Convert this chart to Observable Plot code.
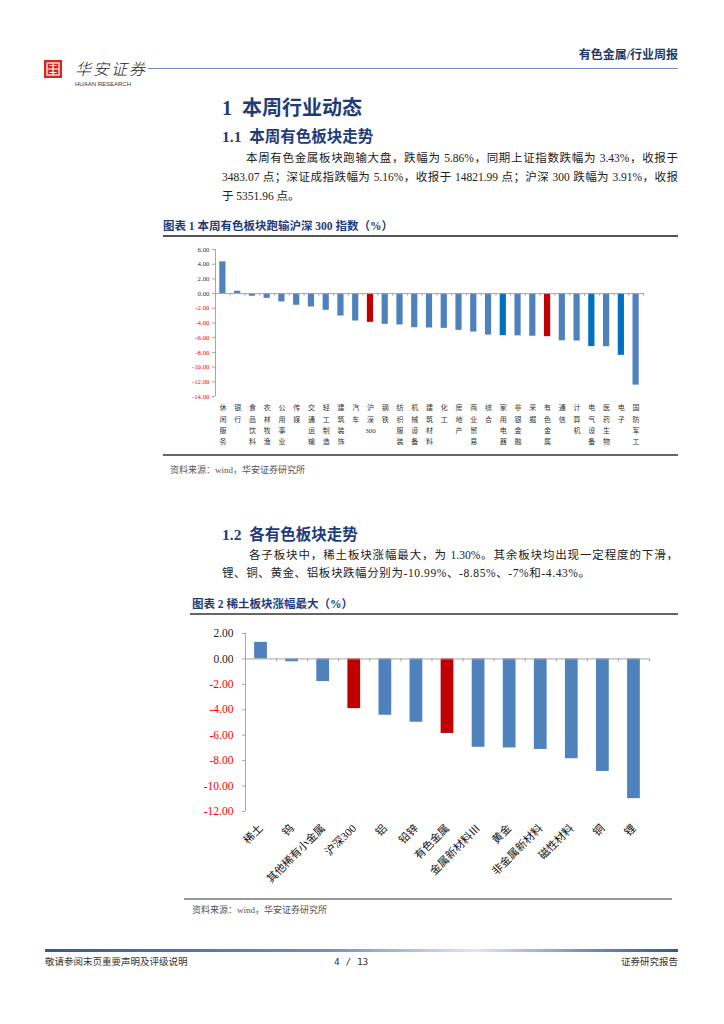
<!DOCTYPE html>
<html><head><meta charset="utf-8">
<script src="https://cdn.jsdelivr.net/npm/d3@7"></script>
<script src="https://cdn.jsdelivr.net/npm/@observablehq/plot@0.6"></script>
<style>
html,body{margin:0;padding:0;background:#fff;}
#page{position:relative;width:724px;height:1024px;overflow:hidden;font-family:"Liberation Serif","Noto Sans CJK SC",serif;color:#222;}
.abs{position:absolute;white-space:nowrap;}
.navy{color:#1F3C7A;font-weight:bold;}
.just{text-align:justify;text-align-last:justify;}
.rule{position:absolute;}
</style></head>
<body><div id="page">
<!-- header -->
<svg class="abs" style="left:44px;top:60px" width="18" height="18" viewBox="0 0 18 18">
<rect width="18" height="18" fill="#D7261E"/>
<rect x="3" y="3" width="12" height="12" fill="none" stroke="#fff" stroke-width="1.2"/>
<path d="M9 3V15M3 9H15M5.5 5.5H12.5M5.5 12.5H12.5" stroke="#fff" stroke-width="1.2"/>
</svg>
<div class="abs" style="left:75px;top:58px;font-size:16px;line-height:20px;letter-spacing:2px;font-style:italic;font-weight:300;color:#222;font-family:'Noto Sans CJK SC',sans-serif;">华安证券</div>
<div class="abs" style="left:75px;top:80px;font-size:6px;line-height:8px;color:#333;font-family:'Liberation Sans',sans-serif;">HUAAN RESEARCH</div>
<div class="rule" style="left:148px;top:68px;width:530px;height:1px;background:#6F8BBF"></div>
<div class="abs navy" style="right:46px;top:47px;font-size:12px;line-height:16px;color:#1F3864;">有色金属/行业周报</div>

<div class="abs navy" style="left:222px;top:95px;font-size:20px;line-height:26px;">1&nbsp;&nbsp;本周行业动态</div>
<div class="abs navy" style="left:222px;top:127px;font-size:15.5px;line-height:20px;">1.1&nbsp;&nbsp;本周有色板块走势</div>
<div class="abs just" style="left:246px;top:149px;width:432px;font-size:11.5px;line-height:18px;">本周有色金属板块跑输大盘，跌幅为 5.86%，同期上证指数跌幅为 3.43%，收报于</div>
<div class="abs just" style="left:222px;top:168px;width:456px;font-size:11.5px;line-height:18px;">3483.07 点；深证成指跌幅为 5.16%，收报于 14821.99 点；沪深 300 跌幅为 3.91%，收报</div>
<div class="abs" style="left:222px;top:187px;font-size:11.5px;line-height:18px;">于 5351.96 点。</div>

<div class="abs navy" style="left:163px;top:218px;font-size:11.5px;line-height:16px;">图表 1 本周有色板块跑输沪深 300 指数（%）</div>
<div class="rule" style="left:163px;top:235px;width:515px;height:2px;background:#555"></div>
<div id="chart1" class="abs" style="left:160px;top:240px;"></div>
<div class="rule" style="left:163px;top:454px;width:515px;height:2px;background:#666"></div>
<div class="abs" style="left:170px;top:464px;font-size:9px;line-height:12px;color:#555;">资料来源：wind，华安证券研究所</div>

<div class="abs navy" style="left:222px;top:525px;font-size:15.5px;line-height:20px;">1.2&nbsp;&nbsp;各有色板块走势</div>
<div class="abs just" style="left:249px;top:546px;width:429px;font-size:11.5px;line-height:18px;">各子板块中，稀土板块涨幅最大，为 1.30%。其余板块均出现一定程度的下滑，</div>
<div class="abs" style="left:222px;top:564px;font-size:11.5px;line-height:18px;letter-spacing:0.6px;">锂、铜、黄金、铝板块跌幅分别为-10.99%、-8.85%、-7%和-4.43%。</div>

<div class="abs navy" style="left:192px;top:596px;font-size:11.5px;line-height:16px;">图表 2 稀土板块涨幅最大（%）</div>
<div class="rule" style="left:190px;top:613px;width:488px;height:1.5px;background:#666"></div>
<div id="chart2" class="abs" style="left:185px;top:620px;"></div>
<div class="rule" style="left:184px;top:898px;width:488px;height:1.5px;background:#999"></div>
<div class="abs" style="left:192px;top:904px;font-size:9px;line-height:12px;color:#555;">资料来源：wind，华安证券研究所</div>

<!-- footer -->
<div class="rule" style="left:45px;top:949px;width:633px;height:3px;background:linear-gradient(90deg,#2D5A96 0%,#6E93C4 45%,#DCE7F3 68%,#6E93C4 85%,#2D5A96 100%)"></div>
<div class="abs" style="left:45px;top:956px;font-size:9.5px;line-height:12px;color:#333;">敬请参阅末页重要声明及评级说明</div>
<div class="abs" style="left:334px;top:956px;font-size:9.5px;line-height:12px;color:#333;font-family:'DejaVu Sans Mono',monospace;">4 / 13</div>
<div class="abs" style="right:46px;top:956px;font-size:9.5px;line-height:12px;color:#333;">证券研究报告</div>
</div>
<script>
const FONT = '"Liberation Serif","Noto Sans CJK SC",serif';
// ---- Chart 1 data ----
const cats1 = ["休闲服务","银行","食品饮料","农林牧渔","公用事业","传媒","交通运输","轻工制造","建筑装饰","汽车","沪深300","钢铁","纺织服装","机械设备","建筑材料","化工","房地产","商业贸易","综合","家用电器","非银金融","采掘","有色金属","通信","计算机","电气设备","医药生物","电子","国防军工"];
const vals1 = [4.32,0.32,-0.36,-0.64,-1.14,-1.59,-1.82,-2.27,-3.05,-3.73,-3.91,-4.18,-4.27,-4.64,-4.68,-4.73,-5.00,-5.23,-5.64,-5.72,-5.75,-5.80,-5.86,-6.42,-6.45,-7.20,-7.23,-8.40,-12.45];
const yTicks1 = [6,4,2,0,-2,-4,-6,-8,-10,-12,-14];
// ---- Chart 2 data ----
const cats2 = ["稀土","钨","其他稀有小金属","沪深300","铝","铅锌","有色金属","金属新材料Ⅲ","黄金","非金属新材料","磁性材料","铜","锂"];
const vals2 = [1.30,-0.22,-1.78,-3.91,-4.43,-4.98,-5.86,-6.95,-7.00,-7.12,-7.85,-8.85,-10.99];
const yTicks2 = [2,0,-2,-4,-6,-8,-10,-12];
// highlight groups
const redCats = ["沪深300","有色金属"];
const darkCats = ["家用电器","电气设备","电子"];

const BLUE = "#4F81BD", DARK = "#0070C0", RED = "#C00000", GRID = "#A6A6A6";
const colorOf = n => redCats.includes(n) ? RED : darkCats.includes(n) ? DARK : BLUE;
const fmt = d => d.toFixed(2);
const vert = s => s.match(/[0-9]+|./g).join("\n");

const data1 = cats1.map((name, i) => ({name, value: vals1[i]}));
const data2 = cats2.map((name, i) => ({name, value: vals2[i]}));

const step1 = 428 / cats1.length;
const chart1 = Plot.plot({
  width: 520, height: 220, marginLeft: 55, marginRight: 37, marginTop: 9, marginBottom: 64,
  style: {fontFamily: FONT, background: "transparent", overflow: "visible"},
  x: {domain: cats1, paddingInner: 0.58, paddingOuter: 0.29, round: false, axis: null},
  y: {domain: [-14, 6], axis: null},
  color: {type: "identity"},
  marks: [
    Plot.barY(data1, {x: "name", y: "value", fill: d => colorOf(d.name)}),
    Plot.ruleY([0], {stroke: GRID}),
    Plot.ruleX(cats1, {x: d => d, dx: step1 / 2, y1: 0, y2: -0.35, stroke: GRID}),
    Plot.ruleX([cats1[0]], {x: d => d, dx: -step1 / 2, y1: -14, y2: 6, stroke: GRID}),
    Plot.axisY(yTicks1.filter(d => d >= 0), {anchor: "left", label: null, tickSize: 3, tickPadding: 3, fontSize: 6.8, stroke: GRID, fill: "#333", tickFormat: fmt}),
    Plot.axisY(yTicks1.filter(d => d < 0), {anchor: "left", label: null, tickSize: 3, tickPadding: 3, fontSize: 6.8, stroke: GRID, fill: "#FF0000", tickFormat: fmt}),
    Plot.text(cats1, {x: d => d, frameAnchor: "bottom", lineAnchor: "top", dy: 6, text: d => vert(d), fontSize: 7, lineHeight: 1.6, fill: "#333"})
  ]
});
document.getElementById("chart1").appendChild(chart1);

const step2 = 404 / cats2.length;
const chart2 = Plot.plot({
  width: 495, height: 280, marginLeft: 60, marginRight: 31, marginTop: 13, marginBottom: 89,
  style: {fontFamily: FONT, background: "transparent", overflow: "visible"},
  x: {domain: cats2, paddingInner: 0.59, paddingOuter: 0.295, round: false, axis: null},
  y: {domain: [-12, 2], axis: null},
  color: {type: "identity"},
  marks: [
    Plot.barY(data2, {x: "name", y: "value", fill: d => colorOf(d.name)}),
    Plot.ruleY([0], {stroke: GRID}),
    Plot.ruleX(cats2, {x: d => d, dx: step2 / 2, y1: 0, y2: -0.25, stroke: GRID}),
    Plot.ruleX([cats2[0]], {x: d => d, dx: -step2 / 2, y1: -12, y2: 2, stroke: GRID}),
    Plot.axisY(yTicks2.filter(d => d >= 0), {anchor: "left", label: null, tickSize: 3, tickPadding: 9, fontSize: 11.5, stroke: GRID, fill: "#222", tickFormat: fmt}),
    Plot.axisY(yTicks2.filter(d => d < 0), {anchor: "left", label: null, tickSize: 3, tickPadding: 9, fontSize: 11.5, stroke: GRID, fill: "#FF0000", tickFormat: fmt}),
    Plot.text(cats2, {x: d => d, frameAnchor: "bottom", text: d => d, rotate: -45, textAnchor: "end", lineAnchor: "middle", dy: 15, fontSize: 11, fill: "#111"})
  ]
});
document.getElementById("chart2").appendChild(chart2);
</script>
</body></html>
